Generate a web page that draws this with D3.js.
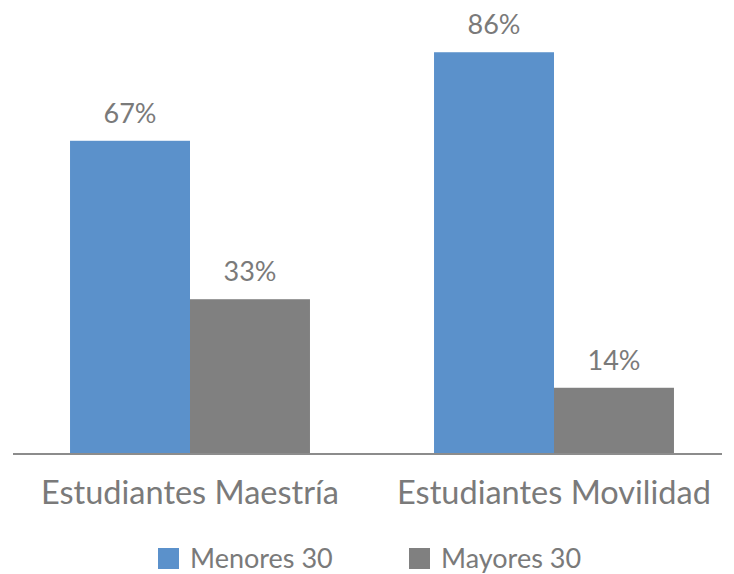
<!DOCTYPE html>
<html>
<head>
<meta charset="utf-8">
<script src="https://cdn.jsdelivr.net/npm/d3@7"></script>
<style>
  body { margin: 0; background: #fff; }
  svg { display: block; font-family: Lato, 'Open Sans', sans-serif; }
</style>
</head>
<body>
<div id="chart"></div>
<script>
const categories = ['Estudiantes Maestría', 'Estudiantes Movilidad']
const series = ['Menores 30', 'Mayores 30']
const menores = [0.67, 0.86]
const mayores = [0.33, 0.14]
const colors = ['#5b91cb', '#808080']

const dimensions = { width: 734, height: 574 }
const baseline = 453

const values = [menores, mayores]

const svg = d3.select('#chart')
  .append('svg')
  .attr('width', dimensions.width)
  .attr('height', dimensions.height)

const x0 = d3.scaleBand()
  .domain(categories)
  .range([8, 736])

const x1 = d3.scaleBand()
  .domain(series)
  .range([0, x0.bandwidth()])
  .paddingOuter(0.517)

const y = d3.scaleLinear()
  .domain([0, 1])
  .range([baseline, -13])

const rows = categories.flatMap((c, i) => series.map((s, j) => ({ c, s, v: values[j][i], color: colors[j] })))

svg.append('g')
  .selectAll('rect')
  .data(rows)
  .join('rect')
  .attr('x', d => x0(d.c) + x1(d.s))
  .attr('width', x1.bandwidth())
  .attr('y', d => y(d.v))
  .attr('height', d => baseline - y(d.v))
  .attr('fill', d => d.color)

svg.append('g')
  .selectAll('text')
  .data(rows)
  .join('text')
  .attr('x', d => x0(d.c) + x1(d.s) + x1.bandwidth() / 2)
  .attr('y', d => y(d.v) - 18)
  .attr('text-anchor', 'middle')
  .attr('font-size', 27)
  .attr('fill', '#7a7a7a')
  .text(d => d3.format('.0%')(d.v))

svg.append('line')
  .attr('x1', 13)
  .attr('x2', 722)
  .attr('y1', baseline + 1)
  .attr('y2', baseline + 1)
  .attr('stroke', '#8c8c8c')
  .attr('stroke-width', 2)

svg.append('g')
  .selectAll('text')
  .data(categories)
  .join('text')
  .attr('x', d => x0(d) + x0.bandwidth() / 2)
  .attr('y', 504)
  .attr('text-anchor', 'middle')
  .attr('font-size', 32.5)
  .attr('fill', '#7a7a7a')
  .text(d => d)

const legendX = [158, 409]
const legend = svg.append('g')
  .selectAll('g')
  .data(series)
  .join('g')
  .attr('transform', (d, i) => `translate(${legendX[i]}, 548)`)

legend.append('rect')
  .attr('width', 21)
  .attr('height', 21)
  .attr('fill', (d, i) => colors[i])

legend.append('text')
  .attr('x', 32)
  .attr('y', 20)
  .attr('font-size', 27)
  .attr('fill', '#7a7a7a')
  .text(d => d)
</script>
</body>
</html>
